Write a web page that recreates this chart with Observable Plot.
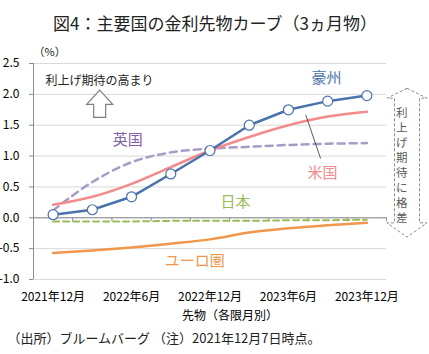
<!DOCTYPE html>
<html>
<head>
<meta charset="utf-8">
<script src="https://cdn.jsdelivr.net/npm/d3@7"></script>
<script src="https://cdn.jsdelivr.net/npm/@observablehq/plot@0.6"></script>
<style>
  html, body { margin: 0; padding: 0; background: #fff; }
  #chart svg { display: block; }
</style>
</head>
<body>
<div id="chart"></div>
<script>
// ---- data ----
const categories = ["2021-12","2022-03","2022-06","2022-09","2022-12","2023-03","2023-06","2023-09","2023-12"];
const tickLabels = ["2021年12月","2022年6月","2022年12月","2023年6月","2023年12月"];
const yTicks = [-1.0, -0.5, 0.0, 0.5, 1.0, 1.5, 2.0, 2.5];
const australia = [0.05, 0.13, 0.34, 0.71, 1.09, 1.50, 1.75, 1.89, 1.98];
const us        = [0.21, 0.34, 0.55, 0.82, 1.09, 1.31, 1.50, 1.64, 1.72];
const uk        = [0.12, 0.58, 0.90, 1.06, 1.12, 1.15, 1.18, 1.20, 1.21];
const japan     = [-0.06, -0.06, -0.06, -0.05, -0.05, -0.05, -0.04, -0.04, -0.03];
const euro      = [-0.57, -0.53, -0.48, -0.42, -0.35, -0.24, -0.17, -0.12, -0.08];
const sideNote  = ["利", "上", "げ", "期", "待", "に", "格", "差"];

const rows = (vals) => vals.map((v, i) => ({i, cat: categories[i], v}));

const C = {
  aus: "#4a72ab", us: "#f38a8c", uk: "#a89cc6", jp: "#9bbb59", eu: "#f0974c",
  ukText: "#8064a2", grid: "#d9d9d9", axis: "#8c8c8c"
};

// series labels (placed in data coordinates)
const seriesLabels = [
  {x: 6.97, y: 2.26, text: "豪州", color: C.aus},
  {x: 1.90, y: 1.25, text: "英国", color: C.ukText},
  {x: 6.87, y: 0.73, text: "米国", color: C.us},
  {x: 4.65, y: 0.25, text: "日本", color: C.jp},
  {x: 3.61, y: -0.70, text: "ユーロ圏", color: C.eu}
];

function arrows(index, scales, values, dims) {
  const {x, y} = scales;
  const g = d3.create("svg:g");
  // up arrow
  const cx = x(1.2), t = y(2.06), hb = y(1.83), b = y(1.62);
  g.append("path")
    .attr("d", `M${cx},${t}L${cx+13},${hb}L${cx+6},${hb}L${cx+6},${b}L${cx-6},${b}L${cx-6},${hb}L${cx-13},${hb}Z`)
    .attr("fill", "#fff").attr("stroke", "#7f7f7f").attr("stroke-width", 1.2);
  // double dashed arrow at right
  const rx = dims.width - dims.marginRight + 21;
  const t2 = y(2.09), h1 = y(1.93), h2 = y(-0.09), b2 = y(-0.32);
  const hw = 20, sw = 12.5;
  g.append("path")
    .attr("d", `M${rx},${t2}L${rx+hw},${h1}L${rx+sw},${h1}L${rx+sw},${h2}L${rx+hw},${h2}L${rx},${b2}L${rx-hw},${h2}L${rx-sw},${h2}L${rx-sw},${h1}L${rx-hw},${h1}Z`)
    .attr("fill", "#fff").attr("stroke", "#8c8c8c").attr("stroke-width", 1)
    .attr("stroke-dasharray", "3,2");
  return g.node();
}

const font = "'Noto Sans CJK JP', 'Noto Sans', sans-serif";

const chart = Plot.plot({
  width: 429,
  height: 354,
  marginTop: 63,
  marginLeft: 33,
  marginRight: 43,
  marginBottom: 75,
  x: {domain: [-0.5, 8.5], axis: null},
  y: {domain: [-1, 2.5], axis: null},
  style: {fontFamily: font, background: "#fff", color: "#000"},
  marks: [
    Plot.gridY(yTicks, {stroke: C.grid, strokeOpacity: 1}),
    Plot.ruleX([-0.5], {stroke: C.axis}),
    Plot.axisY({ticks: yTicks, tickSize: 4, tickPadding: 10, stroke: C.axis,
      tickFormat: d => d.toFixed(1), fontSize: 12, label: null}),
    Plot.ruleY([0], {stroke: C.axis}),
    Plot.ruleX(d3.range(-0.5, 9, 1), {y1: 0, y2: 0, insetBottom: -4, stroke: C.axis}),
    Plot.axisX({ticks: [0, 2, 4, 6, 8], tickSize: 0, tickPadding: 13,
      tickFormat: i => tickLabels[i / 2], fontSize: 12, label: null}),

    Plot.line(rows(japan), {x: "i", y: "v", stroke: C.jp, strokeWidth: 2, strokeDasharray: "6,4"}),
    Plot.line(rows(euro), {x: "i", y: "v", stroke: C.eu, strokeWidth: 2.5, curve: "catmull-rom"}),
    Plot.line(rows(uk), {x: "i", y: "v", stroke: C.uk, strokeWidth: 2.5, strokeDasharray: "7,5", curve: "catmull-rom"}),
    Plot.line(rows(us), {x: "i", y: "v", stroke: C.us, strokeWidth: 2.5, curve: "catmull-rom"}),
    Plot.line(rows(australia), {x: "i", y: "v", stroke: C.aus, strokeWidth: 2.5}),
    Plot.dot(rows(australia), {x: "i", y: "v", r: 5, fill: "#fff", stroke: C.aus, strokeWidth: 1.2}),

    Plot.link([{x1: 6.44, y1: 1.67, x2: 6.82, y2: 0.96}], {x1: "x1", y1: "y1", x2: "x2", y2: "y2", stroke: "#333", strokeWidth: 0.8}),
    Plot.text(seriesLabels, {x: "x", y: "y", text: "text", fill: "color", fontSize: 15}),

    arrows,
    Plot.text(["利上げ期待の高まり"], {frameAnchor: "top-left", dx: 12, dy: 13, textAnchor: "start", fontSize: 12, fill: "#222"}),
    ...sideNote.map((c, k) => Plot.text([c], {frameAnchor: "top-right", dx: 21, dy: 45 + 15 * k, fontSize: 11.5, fill: "#595959"})),

    Plot.text(["図4：主要国の金利先物カーブ（3ヵ月物）"], {frameAnchor: "top", dx: 5, dy: -46, fontSize: 17, fill: "#222"}),
    Plot.text(["（%）"], {frameAnchor: "top-left", dx: 0, dy: -15, fontSize: 11, fill: "#222"}),
    Plot.text(["先物（各限月別）"], {frameAnchor: "bottom", dx: 20, dy: 40, fontSize: 12, fill: "#000"}),
    Plot.text(["（出所）ブルームバーグ （注）2021年12月7日時点。"], {frameAnchor: "bottom-left", dx: -26, dy: 63, textAnchor: "start", fontSize: 13, fill: "#222"})
  ]
});

document.getElementById("chart").appendChild(chart);
</script>
</body>
</html>
